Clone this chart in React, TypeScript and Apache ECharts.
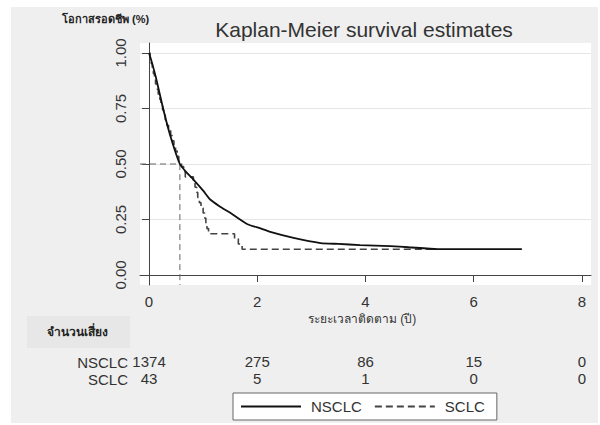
import React, { useEffect, useRef } from 'react';
import * as echarts from 'echarts';

const titleText = 'Kaplan-Meier survival estimates';
const yAxisTitle = 'โอกาสรอดชีพ (%)';
const xAxisTitle = 'ระยะเวลาติดตาม (ปี)';
const riskHeader = 'จำนวนเสี่ยง';
const groups = ['NSCLC', 'SCLC'];
const xTicks = [0, 2, 4, 6, 8];
const yTicks = [0, 0.25, 0.5, 0.75, 1];
const riskNSCLC = [1374, 275, 86, 15, 0];
const riskSCLC = [43, 5, 1, 0, 0];

const nsclcTime = [0, 0.05, 0.13, 0.26, 0.39, 0.57, 0.7, 0.82, 1.0, 1.13, 1.3, 1.5, 1.81, 2.06, 2.24, 2.67, 3.17, 3.5, 3.9, 4.46, 4.8, 5.33, 6.89];
const nsclcSurv = [1.0, 0.96, 0.887, 0.75, 0.63, 0.5, 0.46, 0.43, 0.38, 0.34, 0.31, 0.28, 0.23, 0.21, 0.194, 0.167, 0.144, 0.14, 0.135, 0.13, 0.125, 0.117, 0.117];

const sclcTime = [0, 0.02, 0.04, 0.06, 0.08, 0.1, 0.12, 0.15, 0.17, 0.2, 0.22, 0.25, 0.27, 0.3, 0.33, 0.36, 0.4, 0.43, 0.46, 0.49, 0.52, 0.55, 0.6, 0.64, 0.67, 0.82, 0.85, 0.88, 0.9, 0.93, 0.96, 1.0, 1.03, 1.05, 1.07, 1.1, 1.58, 1.65, 1.72, 5.3];
const sclcSurv = [1.0, 0.977, 0.953, 0.93, 0.907, 0.884, 0.86, 0.837, 0.814, 0.791, 0.767, 0.744, 0.721, 0.698, 0.674, 0.651, 0.628, 0.605, 0.581, 0.558, 0.535, 0.512, 0.488, 0.465, 0.442, 0.419, 0.395, 0.372, 0.349, 0.326, 0.302, 0.279, 0.256, 0.233, 0.209, 0.186, 0.163, 0.14, 0.116, 0.116];

const medianSurvival = 0.5;
const medianTime = 0.57;

const X_MIN = -0.167;
const X_MAX = 8.167;
const Y_MIN = -0.045;
const Y_MAX = 1.045;

const FONT = 'Liberation Sans, Arial, sans-serif';

function riskFormatter(arr: number[]) {
  return (v: number) => {
    const i = xTicks.findIndex((t) => Math.abs(t - v) < 1e-6);
    return i >= 0 ? String(arr[i]) : '';
  };
}

export default function App() {
  const ref = useRef<HTMLDivElement>(null);
  useEffect(() => {
    if (!ref.current) return;
    const chart = echarts.init(ref.current, null, { renderer: 'svg' });
    const riskAxis = (gridIndex: number, arr: number[]) => ({
      type: 'value',
      gridIndex,
      min: X_MIN,
      max: X_MAX,
      axisLine: { show: false },
      axisTick: { show: false },
      splitLine: { show: false },
      axisLabel: {
        customValues: xTicks,
        formatter: riskFormatter(arr),
        fontSize: 15,
        color: '#333',
        fontFamily: FONT,
        margin: 8,
      },
    });
    chart.setOption({
      animation: false,
      backgroundColor: '#ffffff',
      textStyle: { fontFamily: FONT },
      grid: [
        { left: 140, right: 9, top: 43, height: 242, show: true, backgroundColor: '#ffffff', borderWidth: 0, outerBoundsMode: 'none' },
        { left: 140, right: 9, top: 345, height: 1, outerBoundsMode: 'none' },
        { left: 140, right: 9, top: 362, height: 1, outerBoundsMode: 'none' },
      ],
      xAxis: [
        {
          type: 'value',
          gridIndex: 0,
          min: X_MIN,
          max: X_MAX,
          axisLine: { show: true, lineStyle: { color: '#444', width: 1 } },
          axisTick: { show: true, customValues: xTicks, length: 7, lineStyle: { color: '#444' } },
          axisLabel: { customValues: xTicks, fontSize: 15, color: '#333', fontFamily: FONT, margin: 9 },
          splitLine: { show: false },
        },
        riskAxis(1, riskNSCLC),
        riskAxis(2, riskSCLC),
      ],
      yAxis: [
        {
          type: 'value',
          gridIndex: 0,
          min: Y_MIN,
          max: Y_MAX,
          axisLine: { show: true, lineStyle: { color: '#444', width: 1 } },
          axisTick: { show: true, customValues: yTicks, length: 7, lineStyle: { color: '#444' } },
          axisLabel: {
            customValues: yTicks,
            rotate: 90,
            fontSize: 15,
            color: '#333',
            fontFamily: FONT,
            margin: 12,
            formatter: (v: number) => v.toFixed(2),
          },
          splitLine: { show: true, lineStyle: { color: '#e6e6e6', width: 1 } },
        },
        { type: 'value', gridIndex: 1, show: false },
        { type: 'value', gridIndex: 2, show: false },
      ],
      legend: {
        data: groups,
        left: 233,
        top: 393,
        orient: 'horizontal',
        padding: [6, 12, 6, 7],
        itemWidth: 60,
        itemHeight: 14,
        itemGap: 12,
        backgroundColor: '#ffffff',
        borderColor: '#666',
        borderWidth: 1,
        borderRadius: 0,
        selectedMode: false,
        itemStyle: { opacity: 0, color: 'transparent', borderColor: 'transparent', borderWidth: 0 },
        textStyle: { fontSize: 15, color: '#333', fontFamily: FONT, padding: [0, 0, 0, 5] },
      },
      series: [
        {
          name: groups[0],
          type: 'line',
          xAxisIndex: 0,
          yAxisIndex: 0,
          data: nsclcTime.map((t, i) => [t, nsclcSurv[i]]),
          symbol: 'none',
          smooth: 0.2,
          lineStyle: { color: '#111', width: 1.8, type: 'solid' },
          itemStyle: { color: '#111' },
          z: 4,
        },
        {
          name: groups[1],
          type: 'line',
          xAxisIndex: 0,
          yAxisIndex: 0,
          step: 'end',
          data: sclcTime.map((t, i) => [t, sclcSurv[i]]),
          symbol: 'none',
          lineStyle: { color: '#444', width: 1.6, type: [7, 4] },
          itemStyle: { color: '#444' },
          z: 3,
        },
        {
          name: 'median',
          type: 'line',
          xAxisIndex: 0,
          yAxisIndex: 0,
          data: [
            [X_MIN, medianSurvival],
            [medianTime, medianSurvival],
            [medianTime, Y_MIN],
          ],
          symbol: 'none',
          silent: true,
          lineStyle: { color: '#666', width: 1, type: [6, 4] },
          z: 2,
        },
      ],
      graphic: [
        { type: 'rect', z: -100, shape: { x: 11, y: 7, width: 587, height: 416 }, style: { fill: '#efefef' } },
        { type: 'rect', z: -99, shape: { x: 27, y: 316, width: 103, height: 32 }, style: { fill: '#e7e7e7' } },
        { type: 'text', x: 364, y: 29, style: { text: titleText, fill: '#333', font: `21px ${FONT}`, align: 'center', verticalAlign: 'middle' } },
        { type: 'text', x: 62, y: 19, style: { text: yAxisTitle, fill: '#222', font: `bold 11px ${FONT}`, align: 'left', verticalAlign: 'middle' } },
        { type: 'text', x: 362, y: 319, style: { text: xAxisTitle, fill: '#333', font: `12px ${FONT}`, align: 'center', verticalAlign: 'middle' } },
        { type: 'text', x: 47, y: 332, style: { text: riskHeader, fill: '#222', font: `bold 12px ${FONT}`, align: 'left', verticalAlign: 'middle' } },
        { type: 'text', x: 128, y: 362, style: { text: groups[0], fill: '#333', font: `15px ${FONT}`, align: 'right', verticalAlign: 'middle' } },
        { type: 'text', x: 128, y: 379, style: { text: groups[1], fill: '#333', font: `15px ${FONT}`, align: 'right', verticalAlign: 'middle' } },
      ],
    });
    return () => chart.dispose();
  }, []);
  return <div ref={ref} style={{ position: 'absolute', left: 0, top: 0, width: 600, height: 425 }} />;
}
